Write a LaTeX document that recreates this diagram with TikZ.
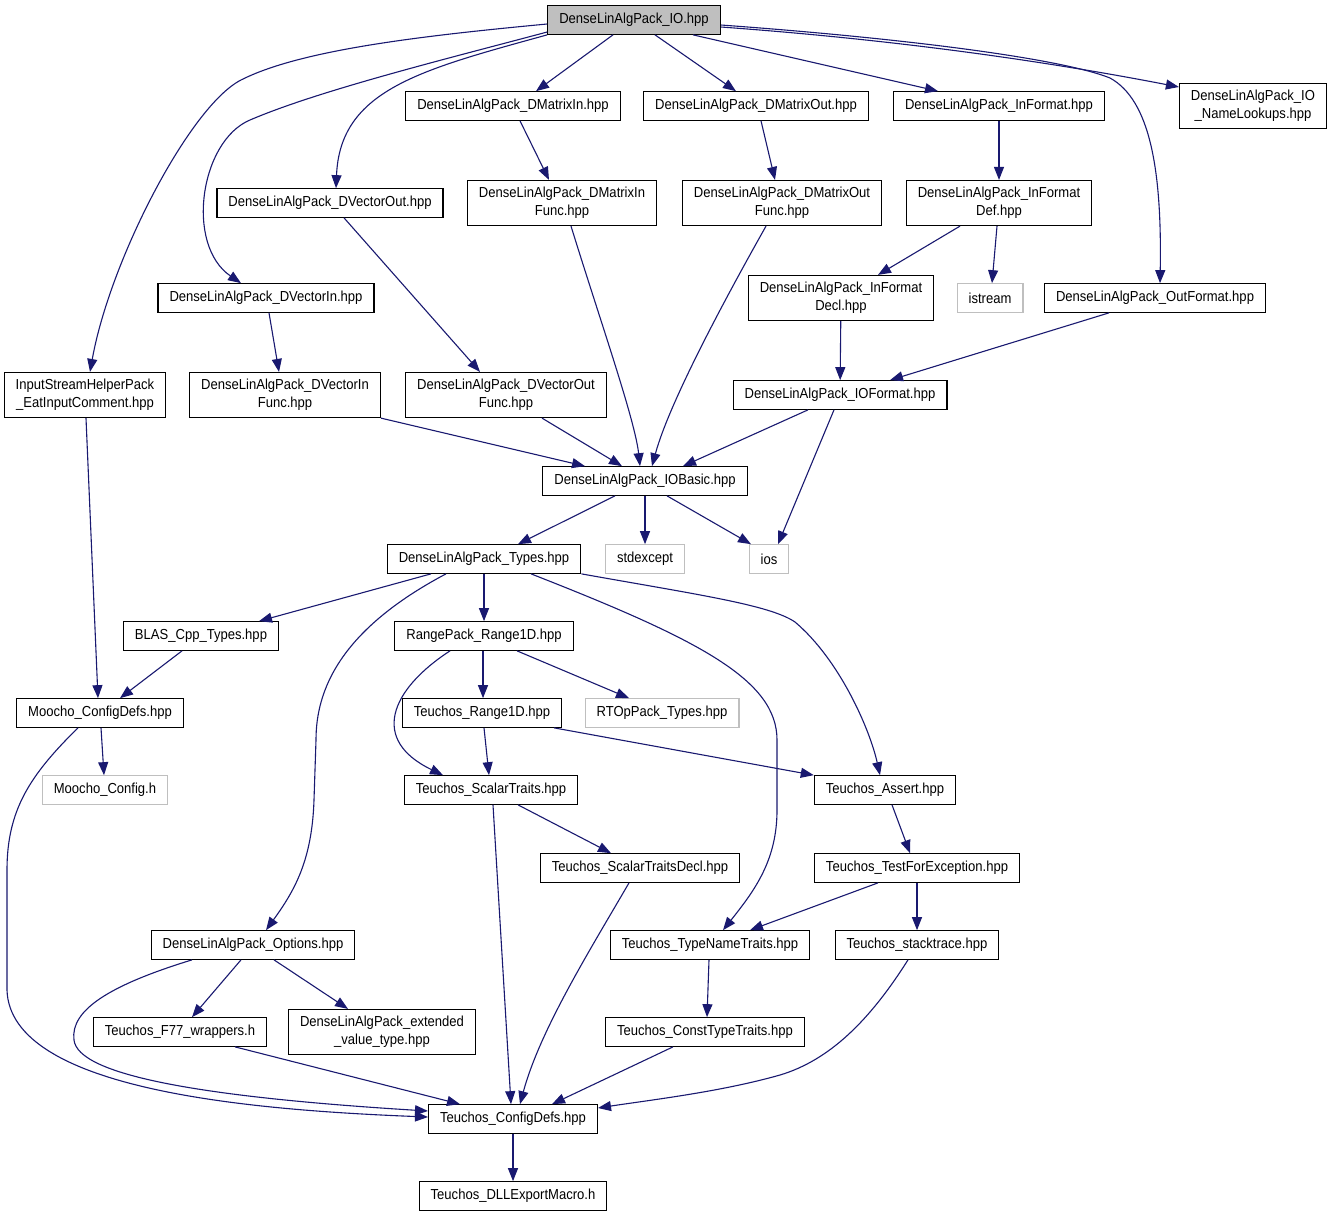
\documentclass[tikz,border=0pt]{standalone}
\usepackage{fontspec}
\setmainfont[FakeStretch=0.9]{Liberation Sans}
\usepackage{tikz}
\usetikzlibrary{arrows.meta}
\definecolor{edgeblue}{RGB}{25,25,112}
\definecolor{sysgray}{RGB}{191,191,191}
\tikzset{
  file/.style={draw=black, line width=1.2pt, inner xsep=11.5pt, inner ysep=3pt,
    minimum height=28.5pt, font=\fontsize{14.5}{18}\selectfont, align=center},
  twoline/.style={minimum height=45pt},
  sysfile/.style={file, draw=sysgray},
  dep/.style={draw=edgeblue, line width=1.1pt, -{Triangle[length=13pt,width=10pt]}}
}

\begin{document}
\begin{tikzpicture}[x=1pt,y=-1pt]
        \useasboundingbox (0,0) rectangle (1329,1216);
        \fill[white] (0,0) rectangle (1329,1216);

        % files
        \node[file, fill=sysgray] (io) at (634,20) {DenseLinAlgPack\_IO.hpp};
        \node[file] (dmin) at (513,106) {DenseLinAlgPack\_DMatrixIn.hpp};
        \node[file] (dmout) at (756,106) {DenseLinAlgPack\_DMatrixOut.hpp};
        \node[file] (infmt) at (999,106) {DenseLinAlgPack\_InFormat.hpp};
        \node[file, twoline] (names) at (1253,106) {DenseLinAlgPack\_IO\\\_NameLookups.hpp};
        \node[file] (dvout) at (330,203) {DenseLinAlgPack\_DVectorOut.hpp};
        \node[file, twoline] (dminf) at (562,203) {DenseLinAlgPack\_DMatrixIn\\Func.hpp};
        \node[file, twoline] (dmoutf) at (782,203) {DenseLinAlgPack\_DMatrixOut\\Func.hpp};
        \node[file, twoline] (infdef) at (999,203) {DenseLinAlgPack\_InFormat\\Def.hpp};
        \node[file] (dvin) at (266,298) {DenseLinAlgPack\_DVectorIn.hpp};
        \node[file, twoline] (infdecl) at (841,298) {DenseLinAlgPack\_InFormat\\Decl.hpp};
        \node[sysfile] (istream) at (990,298) {istream};
        \node[file] (outfmt) at (1155,298) {DenseLinAlgPack\_OutFormat.hpp};
        \node[file, twoline] (eat) at (85,395) {InputStreamHelperPack\\\_EatInputComment.hpp};
        \node[file, twoline] (dvinf) at (285,395) {DenseLinAlgPack\_DVectorIn\\Func.hpp};
        \node[file, twoline] (dvoutf) at (506,395) {DenseLinAlgPack\_DVectorOut\\Func.hpp};
        \node[file] (iofmt) at (840,395) {DenseLinAlgPack\_IOFormat.hpp};
        \node[file] (iobasic) at (645,481) {DenseLinAlgPack\_IOBasic.hpp};
        \node[file] (types) at (484,559) {DenseLinAlgPack\_Types.hpp};
        \node[sysfile] (stdexc) at (645,559) {stdexcept};
        \node[sysfile] (ios) at (769,559) {ios};
        \node[file] (blas) at (201,636) {BLAS\_Cpp\_Types.hpp};
        \node[file] (rng) at (484,636) {RangePack\_Range1D.hpp};
        \node[file] (mcdefs) at (100,713) {Moocho\_ConfigDefs.hpp};
        \node[file] (trng) at (482,713) {Teuchos\_Range1D.hpp};
        \node[sysfile] (rtop) at (662,713) {RTOpPack\_Types.hpp};
        \node[sysfile] (mconf) at (105,790) {Moocho\_Config.h};
        \node[file] (scal) at (491,790) {Teuchos\_ScalarTraits.hpp};
        \node[file] (assert) at (885,790) {Teuchos\_Assert.hpp};
        \node[file] (sdecl) at (640,868) {Teuchos\_ScalarTraitsDecl.hpp};
        \node[file] (tfe) at (917,868) {Teuchos\_TestForException.hpp};
        \node[file] (opts) at (253,945) {DenseLinAlgPack\_Options.hpp};
        \node[file] (tname) at (710,945) {Teuchos\_TypeNameTraits.hpp};
        \node[file] (stack) at (917,945) {Teuchos\_stacktrace.hpp};
        \node[file] (f77) at (180,1032) {Teuchos\_F77\_wrappers.h};
        \node[file, twoline] (ext) at (382,1032) {DenseLinAlgPack\_extended\\\_value\_type.hpp};
        \node[file] (ctype) at (705,1032) {Teuchos\_ConstTypeTraits.hpp};
        \node[file] (tconf) at (513,1119) {Teuchos\_ConfigDefs.hpp};
        \node[file] (dll) at (513,1196) {Teuchos\_DLLExportMacro.h};

        % includes of the top file
        \draw[dep] (io.west |- 0,24) .. controls (420,36) and (300,50) .. (241,80)
              .. controls (190,106) and (110,260) .. (90,0 |- eat.north);
        \draw[dep] (io.west |- 0,32) .. controls (450,58) and (320,90) .. (250,120)
              .. controls (200,141) and (185,245) .. (241,0 |- dvin.north);
        \draw[dep] (io.south west) .. controls (420,70) and (340,90) .. (336,0 |- dvout.north);
        \draw[dep] (613,0 |- io.south) -- (536,0 |- dmin.north);
        \draw[dep] (655,0 |- io.south) -- (736,0 |- dmout.north);
        \draw[dep] (693,0 |- io.south) -- (938,0 |- infmt.north);
        \draw[dep] (io.east |- 0,27) .. controls (900,40) and (1050,62) .. (names.west |- 0,87);
        \draw[dep] (io.east |- 0,25) .. controls (900,38) and (1060,58) .. (1110,78)
              .. controls (1150,100) and (1162,170) .. (1160,0 |- outfmt.north);

        % DenseLinAlgPack
        \draw[dep] (520,0 |- dmin.south) -- (549,0 |- dminf.north);
        \draw[dep] (761,0 |- dmout.south) -- (775,0 |- dmoutf.north);
        \draw[dep] (infmt) -- (infdef);
        \draw[dep] (344,0 |- dvout.south) -- (480,0 |- dvoutf.north);
        \draw[dep] (269,0 |- dvin.south) -- (279,0 |- dvinf.north);
        \draw[dep] (571,0 |- dminf.south) .. controls (600,320) and (635,420) .. (640,0 |- iobasic.north);
        \draw[dep] (766,0 |- dmoutf.south) .. controls (730,290) and (670,400) .. (652,0 |- iobasic.north);
        \draw[dep] (960,0 |- infdef.south) -- (878,0 |- infdecl.north);
        \draw[dep] (997,0 |- infdef.south) -- (992,0 |- istream.north);
        \draw[dep] (infdecl) -- (iofmt);
        \draw[dep] (1109,0 |- outfmt.south) -- (890,0 |- iofmt.north);
        \draw[dep] (86,0 |- eat.south) -- (98,0 |- mcdefs.north);
        \draw[dep] (dvinf.south east) -- (585,0 |- iobasic.north);
        \draw[dep] (542,0 |- dvoutf.south) -- (622,0 |- iobasic.north);
        \draw[dep] (808,0 |- iofmt.south) -- (683,0 |- iobasic.north);
        \draw[dep] (834,0 |- iofmt.south) -- (778,0 |- ios.north);
        \draw[dep] (615,0 |- iobasic.south) -- (518,0 |- types.north);
        \draw[dep] (iobasic) -- (stdexc);
        \draw[dep] (667,0 |- iobasic.south) -- (751,0 |- ios.north);
        \draw[dep] (431,0 |- types.south) -- (259,0 |- blas.north);
        \draw[dep] (484,0 |- types.south) -- (484,0 |- rng.north);
        \draw[dep] (446,0 |- types.south) .. controls (340,630) and (316,690) .. (316,740) -- (314,800)
              .. controls (312,860) and (295,890) .. (266,0 |- opts.north);
        \draw[dep] (531,0 |- types.south) .. controls (700,640) and (777,680) .. (777,740) -- (777,810)
              .. controls (777,860) and (755,890) .. (723,0 |- tname.north);
        \draw[dep] (types.south east) .. controls (700,595) and (770,605) .. (795,622)
              .. controls (840,660) and (870,730) .. (880,0 |- assert.north);

        % Moocho and Teuchos
        \draw[dep] (182,0 |- blas.south) -- (120,0 |- mcdefs.north);
        \draw[dep] (483,0 |- rng.south) -- (483,0 |- trng.north);
        \draw[dep] (450,0 |- rng.south) .. controls (390,690) and (370,740) .. (443,0 |- scal.north);
        \draw[dep] (517,0 |- rng.south) -- (629,0 |- rtop.north);
        \draw[dep] (101,0 |- mcdefs.south) -- (104,0 |- mconf.north);
        \draw[dep] (78,0 |- mcdefs.south) .. controls (30,775) and (7,810) .. (7,870) -- (7,990)
              .. controls (10,1090) and (250,1110) .. (tconf.west |- 0,1117);
        \draw[dep] (484,0 |- trng.south) -- (489,0 |- scal.north);
        \draw[dep] (554,0 |- trng.south) -- (assert.north west);
        \draw[dep] (493,0 |- scal.south) -- (511,0 |- tconf.north);
        \draw[dep] (518,0 |- scal.south) -- (611,0 |- sdecl.north);
        \draw[dep] (892,0 |- assert.south) -- (910,0 |- tfe.north);
        \draw[dep] (629,0 |- sdecl.south) .. controls (590,950) and (540,1030) .. (520,0 |- tconf.north);
        \draw[dep] (878,0 |- tfe.south) -- (750,0 |- tname.north);
        \draw[dep] (tfe) -- (stack);
        \draw[dep] (192,0 |- opts.south) .. controls (110,985) and (70,1010) .. (74,1040)
              .. controls (78,1075) and (200,1097) .. (tconf.west |- 0,1111);
        \draw[dep] (241,0 |- opts.south) -- (192,0 |- f77.north);
        \draw[dep] (274,0 |- opts.south) -- (348,0 |- ext.north);
        \draw[dep] (709,0 |- tname.south) -- (707,0 |- ctype.north);
        \draw[dep] (908,0 |- stack.south) .. controls (870,1020) and (830,1060) .. (780,1075)
              .. controls (720,1092) and (650,1100) .. (tconf.east |- 0,1108);
        \draw[dep] (673,0 |- ctype.south) -- (552,0 |- tconf.north);
        \draw[dep] (235,0 |- f77.south) -- (460,0 |- tconf.north);
        \draw[dep] (tconf) -- (dll);
\end{tikzpicture}
\end{document}
